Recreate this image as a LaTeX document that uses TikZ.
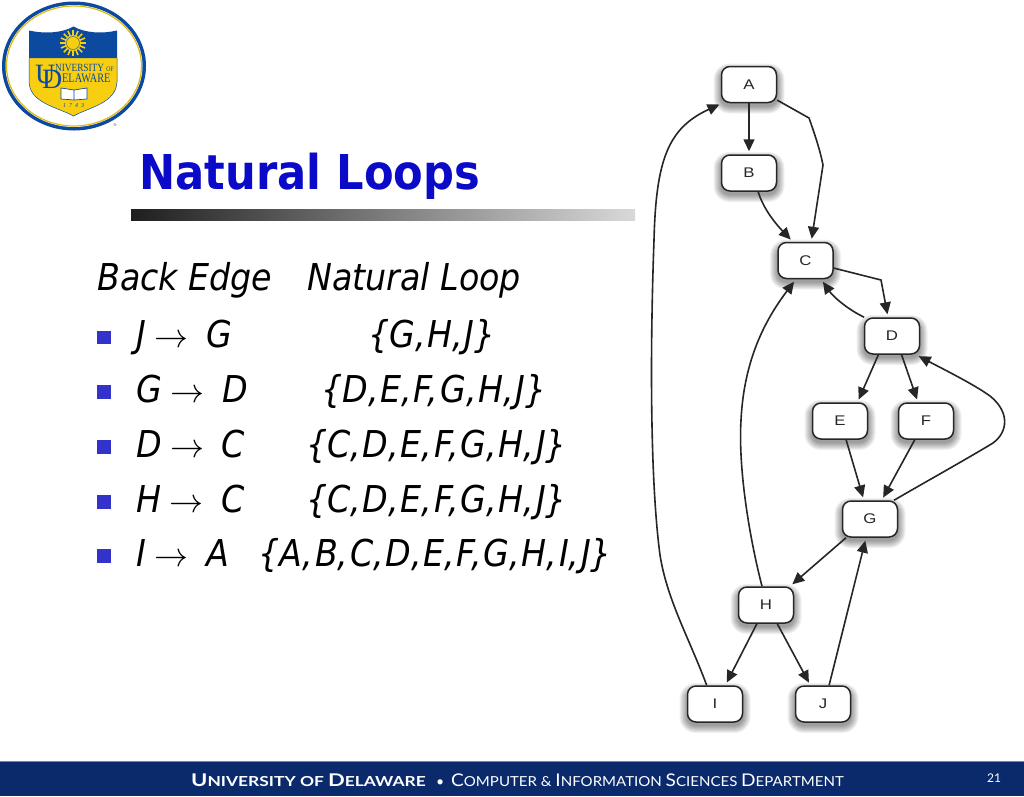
\documentclass[tikz,border=0pt]{standalone}
\usepackage{fontspec}
\setmainfont{DejaVu Sans Condensed}
\newfontfamily\labelfont{Liberation Sans}
\newfontfamily\symfont{Liberation Serif}
\newfontfamily\footfont{Lato}
\usetikzlibrary{arrows.meta,calc,shadings}
\definecolor{udblue}{HTML}{0B4A9E}
\definecolor{udgold}{HTML}{F7CE10}
\definecolor{navy}{HTML}{0A2A6C}
\definecolor{titleblue}{HTML}{0A0AC8}
\definecolor{bulletblue}{HTML}{3333CC}
\newcommand{\bodyfs}{\fontsize{37}{40}\selectfont\itshape}
\newcommand{\arr}{\kern-2pt\scalebox{3.4}{\fontsize{10}{12}\selectfont$\rightarrow$}\kern7pt}
\newcommand{\cma}{,\kern1.7pt}
\newcommand{\scp}[2]{{\fontsize{17.5}{20}\selectfont #1}{\fontsize{13.8}{20}\selectfont #2}}
\tikzset{
  x=1pt,y=-1pt,
  graphnode/.style={draw=black!85,line width=1.5pt,fill=white,rounded corners=8.5pt,minimum width=55pt,minimum height=36pt,inner sep=0pt,text=black!85,font=\labelfont\fontsize{14}{14}\selectfont},
  edge/.style={draw=black!85,line width=1.6pt,-{Triangle[length=12pt,width=11pt]},shorten >=3pt},
  body/.style={anchor=base west,inner sep=0pt,font=\bodyfs,text=black},
  bullet/.style={fill=bulletblue,draw=none,minimum size=13.5pt,inner sep=0pt,anchor=center},
  foot/.style={anchor=base west,inner sep=0pt,text=white,font=\footfont},
  logotext/.style={inner sep=0pt,anchor=base west,text=udblue,font=\symfont},
}
\newcommand{\gnode}[4]{%
  \foreach \k in {1,...,8}{
    \fill[black,opacity=0.055,rounded corners={8+\k*1pt}] (#2-27.5-\k*1.0,#3-18+5-\k*1.0) rectangle (#2+27.5+\k*1.0,#3+18+3+\k*1.0);
  }
  \node[graphnode] (#1) at (#2,#3) {\scalebox{1.2}[1]{#4}};
}
\begin{document}
\begin{tikzpicture}
\useasboundingbox (0,0) rectangle (1024,796);
\fill[white] (0,0) rectangle (1024,796);
% logo
\fill[udblue] (74,66) ellipse [x radius=72,y radius=64.5];
\fill[white] (74,66) ellipse [x radius=68.5,y radius=61];
\draw[udgold!90!black,line width=1.2pt] (74,66) ellipse [x radius=67.5,y radius=60];
\fill[white] (74,66) ellipse [x radius=65.5,y radius=58];
\fill[udgold] (29,58) -- (117,58) -- (117,82) .. controls (116,103) and (90,107) .. (73.5,116) .. controls (57,107) and (30,103) .. (29,82) -- cycle;
\fill[udblue] (29,30.5) .. controls (45,34) and (62,33) .. (73.5,26.5) .. controls (85,33) and (102,34) .. (117,30.5) -- (117,58) -- (29,58) -- cycle;
\draw[udblue,line width=.5pt] (29,58) -- (29,82) .. controls (30,103) and (57,107) .. (73.5,116) .. controls (90,107) and (116,103) .. (117,82) -- (117,58);
\foreach \a in {0,22.5,...,337.5}{\draw[udgold,line width=1.6pt] ($(73,43)+(\a:7)$) -- ($(73,43)+(\a:13)$);}
\fill[udgold] (73,43) circle (8);
\draw[udblue!70!udgold,line width=.6pt] (73,43) circle (6.5);
\node[logotext,font=\symfont\fontsize{28}{28}\selectfont] (logoU) at (35,83) {U};
\node[logotext,font=\symfont\fontsize{28}{28}\selectfont] (logoD) at (42,88) {D};
\node[logotext,font=\symfont\fontsize{11}{11}\selectfont] (logoA) at (55,71) {\scalebox{.84}[1]{NIVERSITY \fontsize{7}{7}\selectfont OF}};
\node[logotext,font=\symfont\fontsize{13}{13}\selectfont] (logoB) at (62,82) {\scalebox{.79}[1]{ELAWARE}};
\draw[udblue,fill=white,line width=.7pt] (61,88) -- (74,90) -- (87,88) -- (87,99) -- (74,100) -- (61,99) -- cycle (74,90) -- (74,100);
\node[logotext,font=\symfont\itshape\fontsize{6}{6}\selectfont] (logoY) at (63,107) {1\,\,\,7\,\,\,4\,\,\,3};
\node[inner sep=0pt,text=black!70,font=\labelfont\fontsize{4}{4}\selectfont] (logoR) at (115,125) {®};
% title
\node[anchor=base west,inner sep=0pt,text=titleblue,font=\bfseries\fontsize{48}{50}\selectfont] (title) at (139.5,189) {Natural Loops};
\shade[left color=black!88,right color=black!15,shading angle=90] (131,209) rectangle (635,220);
% body
\node[body] (h1) at (97,290) {Back Edge};
\node[body] (h2) at (307,290) {Natural Loop};
\node[bullet] (b1) at (104,337.5) {};
\node[bullet] (b2) at (104,392) {};
\node[bullet] (b3) at (104,447) {};
\node[bullet] (b4) at (104,502) {};
\node[bullet] (b5) at (104,556) {};
\node[body] (l1) at (136,347) {J \arr\ G};
\node[body] (l2) at (136,402) {G \arr\ D};
\node[body] (l3) at (136,457) {D \arr\ C};
\node[body] (l4) at (136,512) {H \arr\ C};
\node[body] (l5) at (136,566) {I \arr\ A};
\node[body] (r1) at (368,347) {\{G\cma H\cma J\}};
\node[body] (r2) at (321,402) {\{D\cma E\cma F\cma G\cma H\cma J\}};
\node[body] (r3) at (306,457) {\{C\cma D\cma E\cma F\cma G\cma H\cma J\}};
\node[body] (r4) at (306,512) {\{C\cma D\cma E\cma F\cma G\cma H\cma J\}};
\node[body] (r5) at (258,566) {\{A\cma B\cma C\cma D\cma E\cma F\cma G\cma H\cma I\cma J\}};
% graph nodes
\gnode{A}{749}{84.5}{A}
\gnode{B}{749}{173}{B}
\gnode{C}{805.5}{260.5}{C}
\gnode{D}{892}{336}{D}
\gnode{E}{840}{421}{E}
\gnode{F}{926}{421}{F}
\gnode{G}{870}{519}{G}
\gnode{H}{766}{605}{H}
\gnode{I}{715}{704}{I}
\gnode{J}{823}{704}{J}
% connectors
\draw[edge] (A.south) -- (B.north);
\draw[edge] (A.-29) -- (809,118) .. controls (815,135) and (820,150) .. (823,165) -- (C.73);
\draw[edge] (B.-64) .. controls (762,205) and (772,220) .. (C.124);
\draw[edge] (C.-15) -- (881,280) -- (D.102);
\draw[edge] (D.146) .. controls (845,308) and (832,295) .. (C.-50);
\draw[edge] (H.102) .. controls (750,540) and (738,470) .. (741,420) .. controls (744,360) and (765,320) .. (C.-117);
\draw[edge] (I.114) .. controls (690,640) and (667,600) .. (660,555) .. controls (650,480) and (650,350) .. (654,240) .. controls (656,160) and (668,128) .. (A.-145);
\draw[edge] (G.38) .. controls (920,485) and (965,460) .. (993,443) .. controls (1008,432) and (1010,412) .. (990,396) .. controls (975,385) and (945,370) .. (D.-38);
\draw[edge] (D.-126) -- (E.47);
\draw[edge] (D.-63) -- (F.113);
\draw[edge] (E.-72) -- (G.108);
\draw[edge] (F.-121) -- (G.58);
\draw[edge] (G.-142) -- (H.38);
\draw[edge] (J.72) -- (G.-102);
\draw[edge] (H.-116) -- (I.61);
\draw[edge] (H.-59) -- (J.124);
% footer
\fill[navy] (0,762) rectangle (1024,796);
\draw[red!30!navy!60!white,line width=.6pt] (0,761.5) -- (1024,761.5);
\node[foot,font=\footfont\bfseries] (f1) at (191,786) {\scalebox{1.26}[1]{\scp{U}{NIVERSITY OF }\scp{D}{ELAWARE}}};
\node[foot] (f2) at (436,786) {\fontsize{14}{14}\selectfont •};
\node[foot] (f3) at (451,786) {\scalebox{1.09}[1]{\scp{C}{OMPUTER \& }\scp{I}{NFORMATION }\scp{S}{CIENCES }\scp{D}{EPARTMENT}}};
\node[foot,font=\footfont\fontsize{12}{12}\selectfont] (f4) at (987,782) {21};
\end{tikzpicture}
\end{document}
